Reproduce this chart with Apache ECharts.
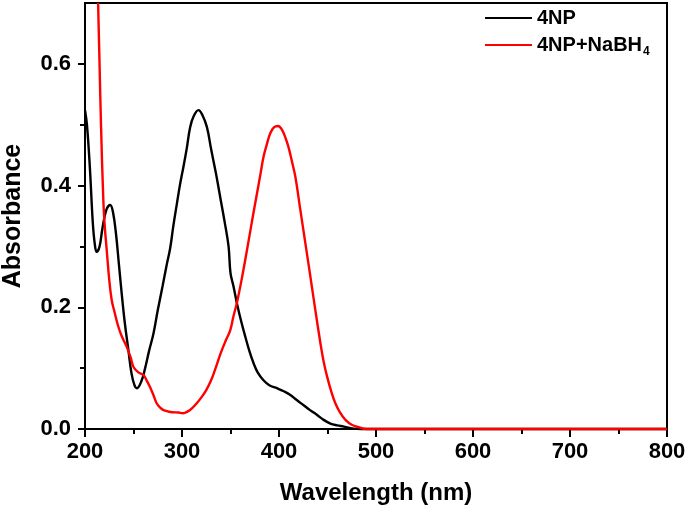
<!DOCTYPE html>
<html>
<head>
<meta charset="utf-8">
<script src="https://cdn.jsdelivr.net/npm/echarts@6/dist/echarts.min.js"></script>
<style>html,body{margin:0;padding:0;background:#fff}#c{width:685px;height:510px}</style>
</head>
<body>
<div id="c"></div>
<script>
// Wavelength (nm), absorbance pairs
const np4 = [
  [200,0.524],[202,0.50],[205,0.43],[208,0.34],[210,0.305],[212,0.291],[215,0.30],[218,0.33],
  [222,0.36],[226,0.368],[229,0.355],[232,0.32],[235,0.27],[238,0.22],[241,0.175],[244.7,0.13],
  [248,0.091],[251,0.072],[253.5,0.067],[258,0.078],[262,0.10],[266,0.128],[270.6,0.157],[275,0.195],
  [280,0.235],[284,0.268],[287.8,0.297],[291,0.333],[294.7,0.370],[298,0.402],[301.5,0.431],[305,0.462],
  [308.4,0.496],[312,0.514],[317,0.524],[321,0.516],[325.7,0.496],[330,0.46],[335,0.42],[339.5,0.38],
  [344,0.34],[348,0.300],[350,0.256],[353,0.235],[356.7,0.206],[361,0.177],[365.2,0.152],[369.5,0.128],
  [373.8,0.108],[378,0.093],[384,0.080],[390,0.072],[398,0.067],[405,0.062],[411.7,0.056],[418,0.048],
  [425.4,0.039],[432,0.031],[439.3,0.023],[446,0.015],[453,0.009],[460,0.006],[466.8,0.004],[475,0.001],
  [485,0],[500,0],[600,0],[700,0],[800,0]
];
const np4NaBH4 = [
  [213.5,0.70],[215,0.60],[216.5,0.50],[218.9,0.376],[220.5,0.33],[222.4,0.294],[225,0.245],[227.5,0.212],
  [230,0.195],[234.4,0.168],[238,0.152],[243,0.135],[247,0.118],[250,0.102],[255,0.093],[260.2,0.089],
  [263.5,0.080],[267,0.069],[270.5,0.056],[274,0.042],[277.5,0.035],[281,0.031],[288,0.028],[296.4,0.027],
  [301,0.026],[306,0.029],[310.2,0.034],[315,0.042],[320,0.052],[325,0.064],[330,0.080],[334,0.097],
  [340,0.125],[345,0.145],[349.7,0.162],[353,0.185],[356.7,0.208],[362,0.25],[367,0.294],[372,0.34],
  [377.3,0.387],[381,0.42],[384,0.447],[387.5,0.468],[391,0.486],[395,0.496],[399,0.498],[403,0.492],
  [407,0.477],[410,0.462],[413,0.442],[416.9,0.414],[422,0.36],[427.2,0.305],[432.4,0.25],[437.5,0.195],
  [442.7,0.141],[446,0.111],[449.6,0.086],[454,0.061],[458.2,0.042],[463,0.027],[468.5,0.015],[475,0.007],
  [482,0.003],[490,0],[500,0],[600,0],[700,0],[800,0]
];
const seriesNames = ['4NP', '4NP+NaBH4'];
const yMajor = [0, 0.2, 0.4, 0.6];
const yMinor = [0.1, 0.3, 0.5];

const FONT = 'Liberation Sans, Arial, sans-serif';
const chart = echarts.init(document.getElementById('c'), null, {renderer: 'canvas'});
chart.setOption({
  animation: false,
  backgroundColor: '#fff',
  grid: {left: 85, right: 18, top: 3, bottom: 81, show: true, borderColor: '#000', borderWidth: 2,
    outerBoundsMode: 'none', containLabel: false},
  legend: {
    orient: 'vertical', left: 480, top: 0, padding: 5, itemGap: 1,
    itemWidth: 47, itemHeight: 2, icon: 'rect',
    data: seriesNames,
    formatter: function (n) {
      return n === '4NP+NaBH4' ? '{a|4NP+NaBH}{s|4}' : '{a|4NP}';
    },
    textStyle: {
      rich: {
        a: {fontFamily: FONT, fontWeight: 'bold', fontSize: 20, lineHeight: 20, color: '#000', padding: [3, 0, 3, 0]},
        s: {fontFamily: FONT, fontWeight: 'bold', fontSize: 12, lineHeight: 12, color: '#000', padding: [14, 0, 0, 1]}
      }
    }
  },
  xAxis: {
    type: 'value', min: 200, max: 800, interval: 100,
    name: 'Wavelength (nm)', nameLocation: 'middle', nameGap: 52,
    nameTextStyle: {fontFamily: FONT, fontWeight: 'bold', fontSize: 24, color: '#000'},
    axisLine: {show: true, onZero: false, lineStyle: {color: '#000', width: 2}},
    axisTick: {show: true, length: 8, lineStyle: {color: '#000', width: 2}},
    minorTick: {show: true, splitNumber: 2, length: 5, lineStyle: {color: '#000', width: 2}},
    axisLabel: {fontFamily: FONT, fontWeight: 'bold', fontSize: 22, color: '#000', margin: 12},
    splitLine: {show: false}
  },
  yAxis: [{
    type: 'value', min: 0, max: 0.7, interval: 0.1,
    name: 'Absorbance', nameLocation: 'middle', nameGap: 59,
    nameTextStyle: {fontFamily: FONT, fontWeight: 'bold', fontSize: 25, color: '#000'},
    axisLine: {show: true, lineStyle: {color: '#000', width: 2}},
    axisTick: {show: true, length: 7, customValues: yMajor, lineStyle: {color: '#000', width: 2}},
    axisLabel: {fontFamily: FONT, fontWeight: 'bold', fontSize: 22, color: '#000', margin: 14,
      customValues: yMajor, formatter: function (v) { return v.toFixed(1); }},
    splitLine: {show: false}
  }, {
    type: 'value', min: 0, max: 0.7, interval: 0.1, position: 'left',
    axisLine: {show: false},
    axisTick: {show: true, length: 5, customValues: yMinor, lineStyle: {color: '#000', width: 2}},
    axisLabel: {show: false},
    splitLine: {show: false}
  }],
  series: [{
    name: seriesNames[0], type: 'line', data: np4, yAxisIndex: 0,
    symbol: 'none', smooth: 0.4, clip: false,
    lineStyle: {color: '#000', width: 2.4}, itemStyle: {color: '#000'}, z: 3
  }, {
    name: seriesNames[1], type: 'line', data: np4NaBH4, yAxisIndex: 0,
    symbol: 'none', smooth: 0.4, clip: false,
    lineStyle: {color: '#ff0000', width: 2.4}, itemStyle: {color: '#ff0000'}, z: 4
  }]
});
</script>
</body>
</html>
